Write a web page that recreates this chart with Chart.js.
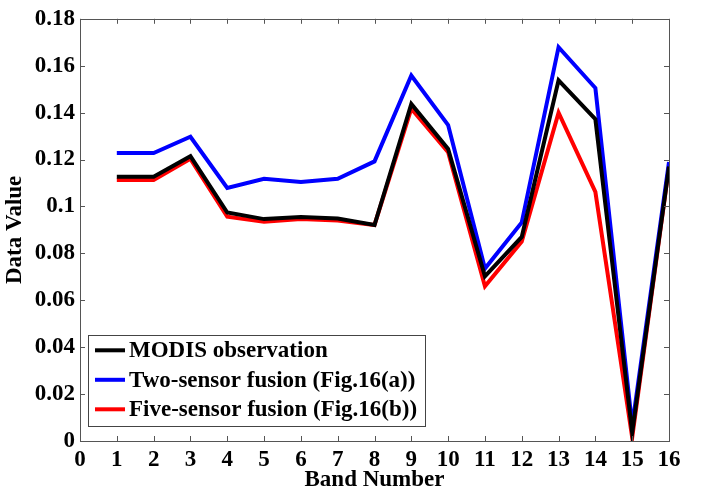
<html>
  <head>
    <title>Band spectrum</title>
    <script src="https://cdn.jsdelivr.net/npm/chart.js@4.4.0/dist/chart.umd.min.js"></script>
    <style>
      body {
        margin: 0;
        background-color: white;
      }
      #chart {
        display: block;
      }
    </style>
  </head>

  <body>
    <canvas id="chart" width="706" height="492"></canvas>
  </body>

  <script>
    // values
    var bands = [1, 2, 3, 4, 5, 6, 7, 8, 9, 10, 11, 12, 13, 14, 15, 16];
    var modis = [0.1127, 0.1127, 0.1214, 0.0974, 0.0946, 0.0955, 0.0949, 0.0921, 0.1437, 0.1245, 0.0702, 0.0870, 0.1538, 0.1372, 0.0035, 0.1170];
    var twoSensor = [0.1228, 0.1228, 0.1297, 0.1079, 0.1118, 0.1104, 0.1118, 0.1192, 0.1558, 0.1347, 0.0735, 0.0932, 0.1679, 0.1505, 0.0065, 0.1189];
    var fiveSensor = [0.1113, 0.1113, 0.1203, 0.0956, 0.0935, 0.0946, 0.0940, 0.0921, 0.1417, 0.1231, 0.0660, 0.0850, 0.1400, 0.1062, 0.0015, 0.1170];
    var seriesNames = ['MODIS observation', 'Two-sensor fusion (Fig.16(a))', 'Five-sensor fusion (Fig.16(b))'];

    var serif = "'Liberation Serif', 'Times New Roman', serif";
    var frameColor = '#555';

    function points(vals) {
      var out = [];
      for (i = 0; i < bands.length; i++) {
        out.push({ x: bands[i], y: vals[i] });
      }
      return out;
    }

    // box around the plot with inward ticks on all four sides
    var framePlugin = {
      id: 'frame',
      afterDraw: function (chart) {
        var ctx = chart.ctx;
        var a = chart.chartArea;
        var xs = chart.scales.x;
        var ys = chart.scales.y;
        var len = 5;
        ctx.save();
        ctx.strokeStyle = frameColor;
        ctx.lineWidth = 1;
        ctx.beginPath();
        xs.ticks.forEach(function (t) {
          var px = Math.round(xs.getPixelForValue(t.value)) + 0.5;
          ctx.moveTo(px, a.bottom);
          ctx.lineTo(px, a.bottom - len);
          ctx.moveTo(px, a.top);
          ctx.lineTo(px, a.top + len);
        });
        ys.ticks.forEach(function (t) {
          var py = Math.round(ys.getPixelForValue(t.value)) + 0.5;
          ctx.moveTo(a.left, py);
          ctx.lineTo(a.left + len, py);
          ctx.moveTo(a.right, py);
          ctx.lineTo(a.right - len, py);
        });
        ctx.stroke();
        ctx.strokeRect(Math.round(a.left) + 0.5, Math.round(a.top) + 0.5,
          Math.round(a.right - a.left), Math.round(a.bottom - a.top));
        ctx.restore();
      }
    };

    // legend box in the lower left corner of the plot
    var legendPlugin = {
      id: 'boxLegend',
      afterDatasetsDraw: function (chart) {
        var ctx = chart.ctx;
        var a = chart.chartArea;
        var bx = a.left + 8;
        var by = a.top + 316;
        var bw = 337;
        var bh = 91;
        ctx.save();
        ctx.fillStyle = 'white';
        ctx.fillRect(bx, by, bw, bh);
        ctx.strokeStyle = '#444';
        ctx.lineWidth = 1;
        ctx.strokeRect(Math.round(bx) + 0.5, Math.round(by) + 0.5, bw, bh);
        ctx.font = 'bold 23px ' + serif;
        ctx.textBaseline = 'middle';
        chart.data.datasets.forEach(function (ds, k) {
          var cy = by + 15.5 + k * 29.5;
          ctx.strokeStyle = ds.borderColor;
          ctx.lineWidth = 4;
          ctx.beginPath();
          ctx.moveTo(bx + 7, cy);
          ctx.lineTo(bx + 37, cy);
          ctx.stroke();
          ctx.fillStyle = 'black';
          ctx.fillText(ds.label, bx + 41, cy + 1);
        });
        ctx.restore();
      }
    };

    new Chart(document.getElementById('chart'), {
      type: 'line',
      data: {
        datasets: [
          { label: seriesNames[0], data: points(modis), borderColor: '#000000' },
          { label: seriesNames[1], data: points(twoSensor), borderColor: '#0000ff' },
          { label: seriesNames[2], data: points(fiveSensor), borderColor: '#ff0000' }
        ]
      },
      options: {
        responsive: false,
        animation: false,
        layout: { padding: { left: 0, right: 37, top: 15, bottom: 0 } },
        elements: {
          line: { borderWidth: 4, tension: 0, fill: false },
          point: { radius: 0 }
        },
        plugins: {
          legend: { display: false },
          tooltip: { enabled: false }
        },
        scales: {
          x: {
            type: 'linear',
            min: 0,
            max: 16,
            afterFit: function (s) { s.height = 51; },
            grid: { display: false, drawTicks: false },
            border: { display: false },
            ticks: {
              stepSize: 1,
              padding: 5,
              color: 'black',
              font: { family: serif, size: 23, weight: 'bold' }
            },
            title: {
              display: true,
              text: 'Band Number',
              color: 'black',
              padding: { top: 0, bottom: 0 },
              font: { family: serif, size: 23, weight: 'bold', lineHeight: 1 }
            }
          },
          y: {
            min: 0,
            max: 0.18,
            afterFit: function (s) { s.width = 80; },
            grid: { display: false, drawTicks: false },
            border: { display: false },
            ticks: {
              stepSize: 0.02,
              padding: 5,
              color: 'black',
              font: { family: serif, size: 23, weight: 'bold' },
              callback: function (v) { return String(+v.toFixed(2)); }
            },
            title: {
              display: true,
              text: 'Data Value',
              color: 'black',
              padding: { top: 4, bottom: 0 },
              font: { family: serif, size: 23, weight: 'bold', lineHeight: 1 }
            }
          }
        }
      },
      plugins: [legendPlugin, framePlugin]
    });
  </script>

</html>
